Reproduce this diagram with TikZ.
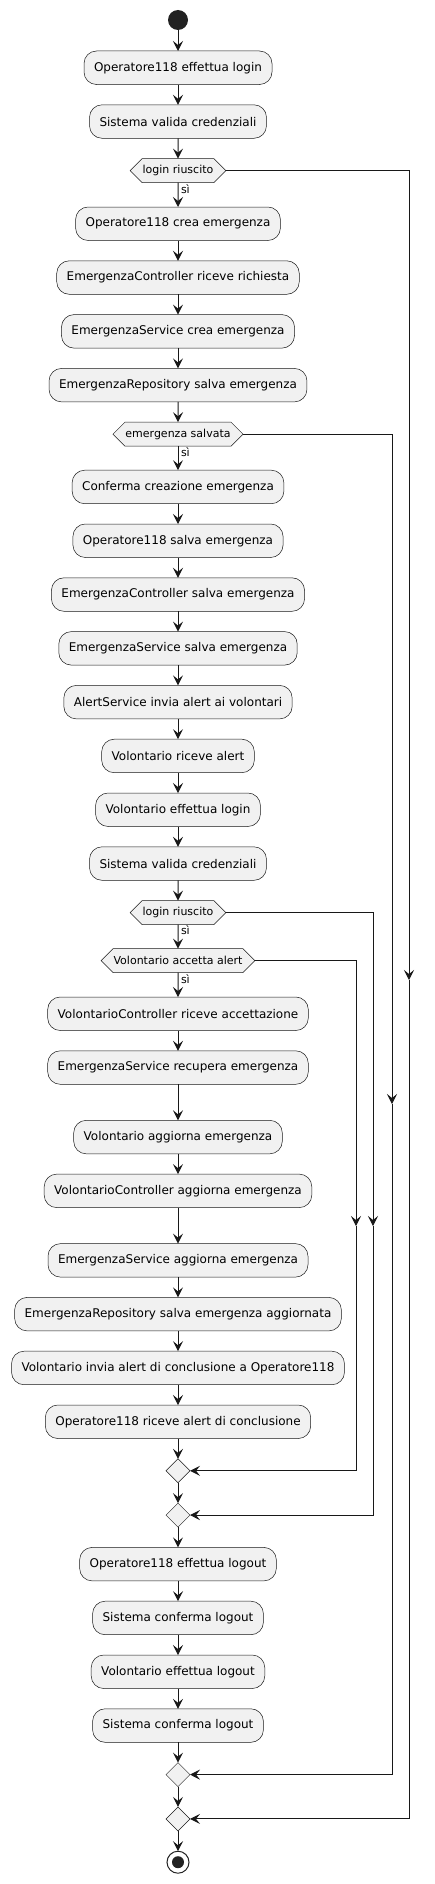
\documentclass[tikz,border=0pt]{standalone}
\usepackage{fontspec}
\setmainfont{DejaVu Sans}
\usetikzlibrary{positioning,shapes.geometric,shapes.symbols,arrows.meta}
\definecolor{boxfill}{HTML}{F1F1F1}
\definecolor{umlline}{HTML}{181818}
\definecolor{dotfill}{HTML}{222222}

\begin{document}
\begin{tikzpicture}[
    x=1pt, y=-1pt,
    node distance=20.3pt,
    every node/.style={outer sep=0pt},
    action/.style={rectangle, draw=umlline, line width=0.5pt, fill=boxfill, rounded corners=12.5pt, minimum height=33.5pt, inner xsep=10pt, font=\fontsize{12}{14}\selectfont},
    choice/.style={signal, signal to=east and west, draw=umlline, line width=0.5pt, fill=boxfill, minimum height=24pt, inner xsep=0.5pt, inner ysep=0pt, font=\fontsize{11}{13}\selectfont},
    merge/.style={diamond, draw=umlline, line width=0.5pt, fill=boxfill, minimum width=24pt, minimum height=24pt, inner sep=0pt},
    startdot/.style={circle, fill=dotfill, minimum size=20pt, inner sep=0pt},
    enddot/.style={circle, draw=dotfill, line width=1pt, minimum size=22pt, inner sep=0pt},
    arrow/.style={-{Stealth[length=10pt, width=10pt, inset=4pt]}, line width=1pt, draw=umlline},
    yeslabel/.style={pos=0.25, anchor=west, inner xsep=3pt, inner ysep=0pt, font=\fontsize{11}{13}\selectfont}
]
\useasboundingbox (0,0) rectangle (434,1884);

\node[startdot] (start) at (178,20) {};
\node[action, below=21pt of start] (oplogin) {Operatore118 effettua login};
\node[action, below=of oplogin] (sysval) {Sistema valida credenziali};
\node[choice, below=of sysval] (loginok) {login riuscito};
\node[action, below=24.4pt of loginok] (crea) {Operatore118 crea emergenza};
\node[action, below=of crea] (ctrlric) {EmergenzaController riceve richiesta};
\node[action, below=of ctrlric] (srvcrea) {EmergenzaService crea emergenza};
\node[action, below=of srvcrea] (reposalva) {EmergenzaRepository salva emergenza};
\node[choice, below=of reposalva] (salvata) {emergenza salvata};
\node[action, below=24pt of salvata] (conferma) {Conferma creazione emergenza};
\node[action, below=of conferma] (opsalva) {Operatore118 salva emergenza};
\node[action, below=of opsalva] (ctrlsalva) {EmergenzaController salva emergenza};
\node[action, below=of ctrlsalva] (srvsalva) {EmergenzaService salva emergenza};
\node[action, below=of srvsalva] (alert) {AlertService invia alert ai volontari};
\node[action, below=of alert] (volric) {Volontario riceve alert};
\node[action, below=of volric] (vollogin) {Volontario effettua login};
\node[action, below=of vollogin] (sysval2) {Sistema valida credenziali};
\node[choice, below=of sysval2] (loginok2) {login riuscito};
\node[choice, below=24pt of loginok2] (accetta) {Volontario accetta alert};
\node[action, below=24.4pt of accetta] (volctrlric) {VolontarioController riceve accettazione};
\node[action, below=of volctrlric] (srvrecupera) {EmergenzaService recupera emergenza};
\node[action, below=36pt of srvrecupera] (volagg) {Volontario aggiorna emergenza};
\node[action, below=of volagg] (volctrlagg) {VolontarioController aggiorna emergenza};
\node[action, below=36pt of volctrlagg] (srvagg) {EmergenzaService aggiorna emergenza};
\node[action, below=of srvagg] (repoagg) {EmergenzaRepository salva emergenza aggiornata};
\node[action, below=of repoagg] (conclusione) {Volontario invia alert di conclusione a Operatore118};
\node[action, below=of conclusione] (opricconcl) {Operatore118 riceve alert di conclusione};
\node[merge, below=of opricconcl] (m1) {};
\node[merge, below=of m1] (m2) {};
\node[action, below=of m2] (oplogout) {Operatore118 effettua logout};
\node[action, below=of oplogout] (syslogout) {Sistema conferma logout};
\node[action, below=of syslogout] (vollogout) {Volontario effettua logout};
\node[action, below=of vollogout] (syslogout2) {Sistema conferma logout};
\node[merge, below=of syslogout2] (m3) {};
\node[merge, below=of m3] (m4) {};
\node[enddot, below=of m4] (stop) {};
\fill[dotfill] (stop.center) circle (6pt);

% main flow
\foreach \a/\b in {start/oplogin, oplogin/sysval, sysval/loginok, crea/ctrlric, ctrlric/srvcrea,
    srvcrea/reposalva, reposalva/salvata, conferma/opsalva, opsalva/ctrlsalva, ctrlsalva/srvsalva,
    srvsalva/alert, alert/volric, volric/vollogin, vollogin/sysval2, sysval2/loginok2,
    volctrlric/srvrecupera, srvrecupera/volagg, volagg/volctrlagg, volctrlagg/srvagg, srvagg/repoagg,
    repoagg/conclusione, conclusione/opricconcl, opricconcl/m1, m1/m2, m2/oplogout,
    oplogout/syslogout, syslogout/vollogout, vollogout/syslogout2, syslogout2/m3, m3/m4, m4/stop}
    \draw[arrow] (\a) -- (\b);

\draw[arrow] (loginok) -- node[yeslabel] {sì} (crea);
\draw[arrow] (salvata) -- node[yeslabel] {sì} (conferma);
\draw[arrow] (loginok2) -- node[yeslabel] {sì} (accetta);
\draw[arrow] (accetta) -- node[yeslabel] {sì} (volctrlric);

% else branches
\coordinate (k1) at (409,980);
\coordinate (k2) at (392,1104);
\coordinate (k3) at (373,1226);
\coordinate (k4) at (356,1226);
\draw[arrow] (loginok.east) -| (k1);
\draw[arrow] (k1) |- (m4.east);
\draw[arrow] (salvata.east) -| (k2);
\draw[arrow] (k2) |- (m3.east);
\draw[arrow] (loginok2.east) -| (k3);
\draw[arrow] (k3) |- (m2.east);
\draw[arrow] (accetta.east) -| (k4);
\draw[arrow] (k4) |- (m1.east);
\end{tikzpicture}
\end{document}
